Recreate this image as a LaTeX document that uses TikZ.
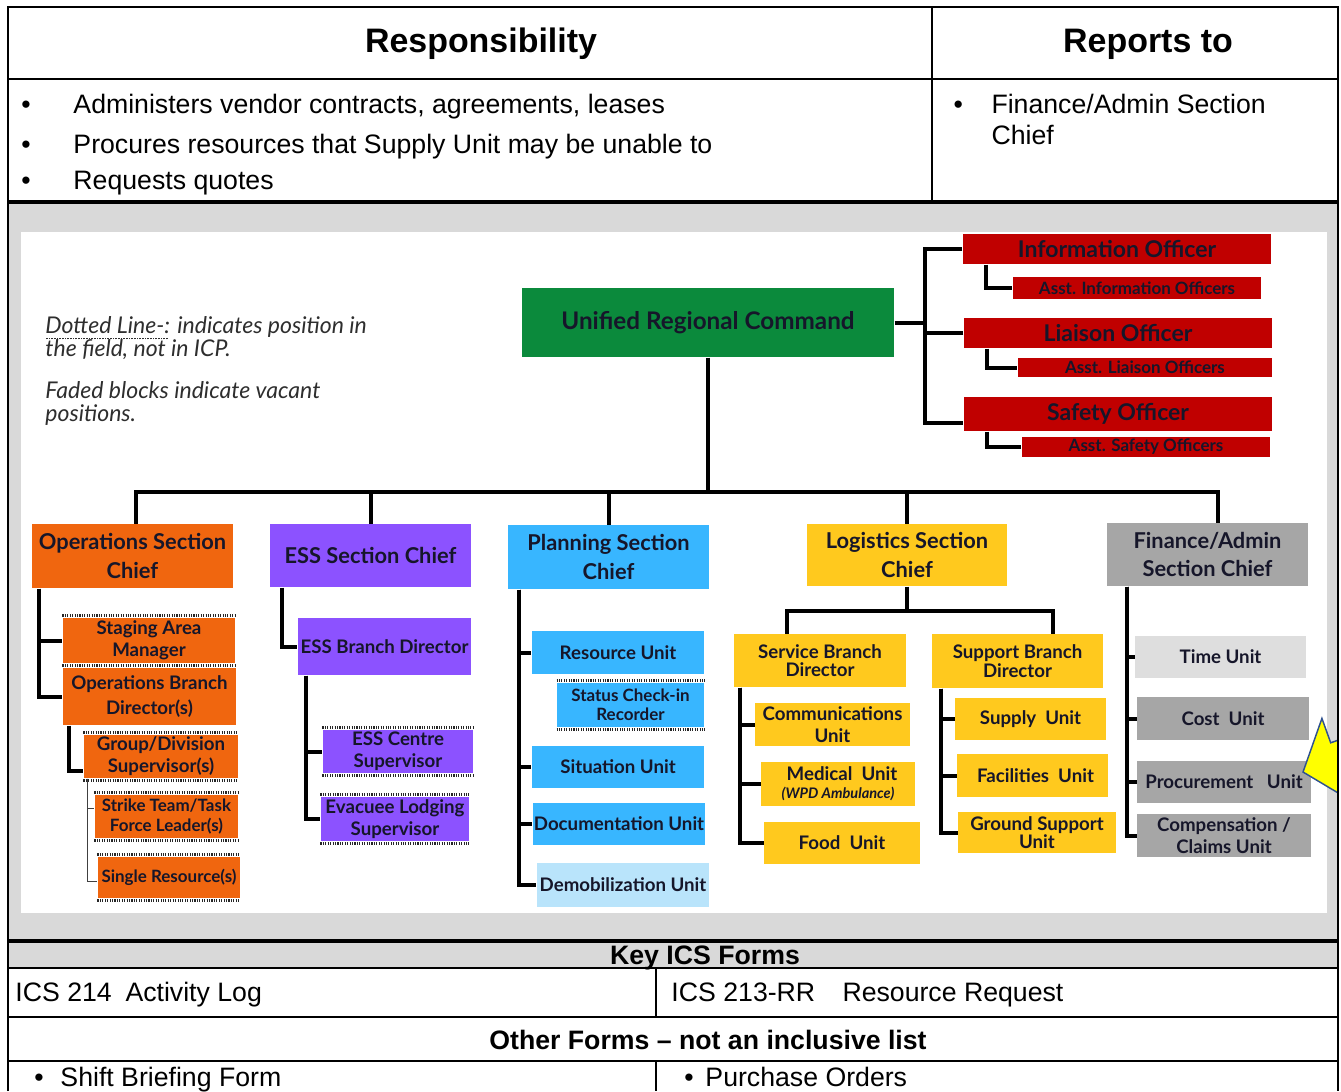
\documentclass[tikz,border=0pt]{standalone}
\usepackage{fontspec}
\setmainfont{Liberation Sans}
\newfontfamily\chartfont{Lato}
\usetikzlibrary{positioning}
\newlength\pxu
\setlength\pxu{0.41256pt}
\definecolor{cmdgreen}{HTML}{0B8A3C}
\definecolor{offred}{HTML}{C00000}
\definecolor{opsorange}{HTML}{F0660F}
\definecolor{essviolet}{HTML}{8C52FF}
\definecolor{plnblue}{HTML}{38B6FF}
\definecolor{plnpale}{HTML}{B9E4FB}
\definecolor{logyellow}{HTML}{FFC91E}
\definecolor{fingray}{HTML}{A6A6A6}
\definecolor{finpale}{HTML}{DEDEDE}
\definecolor{panelgray}{HTML}{D9D9D9}
\definecolor{pointer}{HTML}{FFFF00}
\definecolor{pointeredge}{HTML}{2F528F}
\definecolor{ink}{HTML}{16162A}
\definecolor{notegray}{HTML}{2E2E2E}
\newcommand\dotul[1]{\setbox0\hbox{#1}\rlap{\lower2.4pt\hbox to\wd0{\leaders\hbox to 1.1pt{\hss\vrule width .6pt height .6pt\hss}\hfil}}#1}
\tikzset{
  wh/.style 2 args={minimum width=#1*\pxu, minimum height=#2*\pxu},
  blk/.style={inner sep=0pt, align=center, text=ink, font=\chartfont\bfseries\fontsize{7.7}{9}\selectfont},
  chief/.style={blk, font=\chartfont\bfseries\fontsize{9}{11.6}\selectfont},
  officer/.style={blk, fill=offred, font=\chartfont\bfseries\fontsize{9.5}{11}\selectfont},
  asst/.style={blk, fill=offred, font=\chartfont\bfseries\fontsize{7}{8}\selectfont},
  field/.style={blk, font=\chartfont\bfseries\fontsize{7}{8}\selectfont},
  link/.style={line width=1.65pt, draw=black},
  thinlink/.style={line width=.45pt, draw=black!75},
  fieldline/.style={line width=.9pt, draw=black!85, dash pattern=on .45pt off .55pt},
  note/.style={inner sep=0pt, align=left, text=notegray, font=\chartfont\itshape\fontsize{9.5}{9.4}\selectfont},
  rule/.style={line width=.45pt},
  heavy/.style={line width=1.3pt},
  cell/.style={inner sep=0pt, anchor=base west, font=\fontsize{11}{12.8}\selectfont},
  cellhead/.style={inner sep=0pt, anchor=base, font=\bfseries\fontsize{11}{12.8}\selectfont},
}
\begin{document}
\begin{tikzpicture}[x=0.0145cm, y=-0.0145cm]
\useasboundingbox (0,0) rectangle (1341,1091);
\fill[panelgray] (8,202) rectangle (1338,941);
\fill[white] (21,232) rectangle (1327,913);
\fill[panelgray] (8,941) rectangle (1338,968);

\node[inner sep=0pt, anchor=base, font=\bfseries\fontsize{14}{16}\selectfont] (hresp) at (481,52) {Responsibility};
\node[inner sep=0pt, anchor=base, font=\bfseries\fontsize{14}{16}\selectfont] (hrep) at (1148,52) {Reports to};
\node[cell] (resp1) at (21,113) {\makebox[52\pxu][l]{•}Administers vendor contracts, agreements, leases};
\node[cell] (resp2) at (21,153) {\makebox[52\pxu][l]{•}Procures resources that Supply Unit may be unable to};
\node[cell] (resp3) at (21,189) {\makebox[52\pxu][l]{•}Requests quotes};
\node[cell] (rep1) at (953,113) {\makebox[38\pxu][l]{•}Finance/Admin Section};
\node[cell] (rep2) at (991,144) {Chief};

\node[cellhead] (keyforms) at (705,964) {Key ICS Forms};
\node[cell] (form1) at (15,1001) {\makebox[110\pxu][l]{ICS 214}Activity Log};
\node[cell] (form2) at (671,1001) {\makebox[171\pxu][l]{ICS 213-RR}Resource Request};
\node[cellhead] (otherforms) at (708,1049) {Other Forms -- not an inclusive list};
\node[cell] (other1) at (34,1086) {\makebox[26\pxu][l]{•}Shift Briefing Form};
\node[cell] (other2) at (684,1086) {\makebox[21\pxu][l]{•}Purchase Orders};

\node[note, anchor=north west] (dotnote) at (45,316) {\dotul{Dotted Line-:} indicates position in\\the field, not in ICP.};
\node[note, anchor=north west] (fadenote) at (45,381) {Faded blocks indicate vacant\\positions.};

\node[chief, fill=cmdgreen, wh={372}{69}, font=\chartfont\bfseries\fontsize{10}{12}\selectfont] (urc) at (708,322.5) {Unified Regional Command};
\node[officer, wh={308}{30}] (info) at (1117,249) {Information Officer};
\node[asst, wh={248}{22}] (ainfo) at (1137,288) {Asst. Information Officers};
\node[officer, wh={308}{30}] (lia) at (1118,333) {Liaison Officer};
\node[asst, wh={254}{19}] (alia) at (1145,367.5) {Asst. Liaison Officers};
\node[officer, wh={308}{34}] (saf) at (1118,414) {Safety Officer};
\node[asst, wh={248}{20}] (asaf) at (1146,447) {Asst. Safety Officers};

\node[chief, fill=opsorange, wh={201}{64}] (ops) at (132.5,556) {Operations Section\\Chief};
\node[chief, fill=essviolet, wh={201}{63}] (ess) at (370.5,555.5) {ESS Section Chief};
\node[chief, fill=plnblue, wh={201}{64}] (pln) at (608.5,557) {Planning Section\\Chief};
\node[chief, fill=logyellow, wh={200}{62}] (log) at (907,555) {Logistics Section\\Chief};
\node[chief, fill=fingray, wh={201}{63}] (fin) at (1207.5,554.5) {Finance/Admin\\Section Chief};

\node[blk, fill=opsorange, wh={172}{45}] (stag) at (149,640.5) {Staging Area\\Manager};
\node[blk, fill=opsorange, wh={173}{57}, font=\chartfont\bfseries\fontsize{7.7}{10.3}\selectfont] (obd) at (149.5,696.5) {Operations Branch\\Director(s)};
\node[blk, fill=opsorange, wh={154}{43}] (grp) at (161,756.5) {Group/Division\\Supervisor(s)};
\node[field, fill=opsorange, wh={143}{43}] (stk) at (166.5,816.5) {Strike Team/Task\\Force Leader(s)};
\node[field, fill=opsorange, wh={142}{41}] (sgl) at (169,877.5) {Single Resource(s)};

\node[blk, fill=essviolet, wh={173}{57}] (esbd) at (384.5,646.5) {ESS Branch Director};
\node[blk, fill=essviolet, wh={150}{43}] (ecs) at (398,751.5) {ESS Centre\\Supervisor};
\node[blk, fill=essviolet, wh={148}{44}] (elod) at (395,819) {Evacuee Lodging\\Supervisor};

\node[blk, fill=plnblue, wh={172}{43}] (res) at (618,652.5) {Resource Unit};
\node[field, fill=plnblue, wh={147}{44}] (scr) at (630.5,705) {Status Check-in\\Recorder};
\node[blk, fill=plnblue, wh={172}{42}] (sit) at (618,767) {Situation Unit};
\node[blk, fill=plnblue, wh={172}{42}] (doc) at (619,824) {Documentation Unit};
\node[blk, fill=plnpale, wh={172}{44}] (dmb) at (623,885) {Demobilization Unit};

\node[blk, fill=logyellow, wh={172}{53}, font=\chartfont\bfseries\fontsize{7.7}{7.4}\selectfont] (svc) at (820,660.5) {Service Branch\\Director};
\node[blk, fill=logyellow, wh={171}{54}, font=\chartfont\bfseries\fontsize{7.7}{7.6}\selectfont] (spt) at (1017.5,661) {Support Branch\\Director};
\node[blk, fill=logyellow, wh={155}{43}] (com) at (832.5,724.5) {Communications\\Unit};
\node[blk, fill=logyellow, wh={154}{44}, font=\chartfont\bfseries\fontsize{7.7}{7.4}\selectfont] (med) at (838,784) {\hspace*{8\pxu}Medical\ \ Unit\\{\itshape\fontsize{6}{7}\selectfont (WPD Ambulance)}};
\node[blk, fill=logyellow, wh={156}{42}] (food) at (842,843) {Food\ \ Unit};
\node[blk, fill=logyellow, wh={151}{42}] (sply) at (1030.5,719) {Supply\ \ Unit};
\node[blk, fill=logyellow, wh={151}{43}] (fac) at (1032.5,775.5) {\hspace*{6\pxu}Facilities\ \ Unit};
\node[blk, fill=logyellow, wh={158}{41}, font=\chartfont\bfseries\fontsize{7.7}{7.2}\selectfont] (gsu) at (1037,832.5) {Ground Support\\Unit};

\node[blk, fill=finpale, wh={171}{42}] (time) at (1220.5,657) {Time Unit};
\node[blk, fill=fingray, wh={172}{43}] (cost) at (1223,718.5) {Cost\ \ Unit};
\node[blk, fill=fingray, wh={174}{42}] (proc) at (1224,782) {Procurement\ \ \ Unit};
\node[blk, fill=fingray, wh={174}{43}] (comp) at (1224,835.5) {Compensation /\\Claims Unit};

\coordinate (bus) at (708,492);
\coordinate (brk) at (925,315);
\coordinate (lbus) at (907,611);
\draw[link] (urc.south) -- (bus);
\draw[link] ([xshift=3*\pxu]ops.north) |- (bus) -| ([xshift=10*\pxu]fin.north);
\foreach \s in {ess,pln,log}{ \draw[link] (\s.north) -- (\s.north |- bus); }
\draw[link] (urc.east) -- (urc.east -| brk);
\draw[link] (info.west) -| (brk) |- ([yshift=-9*\pxu]saf.west);
\draw[link] (lia.west) -- (lia.west -| brk);
\foreach \a/\b in {info/ainfo,lia/alia,saf/asaf}{ \draw[link] ([xshift=24*\pxu]\a.south west) |- (\b.west); }

\draw[link] ([xshift=8*\pxu]ops.south west) |- (stag.west);
\draw[link] ([xshift=8*\pxu]ops.south west) |- (obd.west);
\draw[link] ([xshift=7*\pxu]obd.south west) |- ([yshift=-14*\pxu]grp.west);
\draw[thinlink] ([xshift=4*\pxu]grp.south west) |- ([yshift=8*\pxu]stk.west);
\draw[thinlink] ([xshift=4*\pxu]grp.south west) |- ([yshift=-4*\pxu]sgl.west);
\draw[link] ([xshift=13*\pxu]ess.south west) |- (esbd.west);
\foreach \n in {ecs,elod}{ \draw[link] ([xshift=9*\pxu]esbd.south west) |- (\n.west); }
\foreach \n in {res,sit,doc,dmb}{ \draw[link] ([xshift=12*\pxu]pln.south west) |- (\n.west); }
\draw[link] (log.south) -- (log.south |- lbus);
\draw[link] ([xshift=-33*\pxu]svc.north) |- (lbus) -| ([xshift=35*\pxu]spt.north);
\foreach \n in {com,med,food}{ \draw[link] ([xshift=6*\pxu]svc.south west) |- (\n.west); }
\foreach \n in {sply,fac,gsu}{ \draw[link] ([xshift=9*\pxu]spt.south west) |- (\n.west); }
\foreach \n in {time,cost,proc,comp}{ \draw[link] ([xshift=20*\pxu]fin.south west) |- (\n.west); }

\foreach \n in {stag,grp,stk,sgl,scr,ecs,elod}{
  \draw[fieldline] ([yshift=2*\pxu]\n.north west) -- ([yshift=2*\pxu]\n.north east);
  \draw[fieldline] ([yshift=-2*\pxu]\n.south west) -- ([yshift=-2*\pxu]\n.south east);
}

\begin{scope}
  \clip (0,0) rectangle (1338,1091);
  \filldraw[fill=pointer, draw=pointeredge, line width=.6pt] (1303,772) -- (1321.9,718.4) -- (1330.7,742.8) -- (1405.9,715.6) -- (1418.1,749.4) -- (1343,776.7) -- (1351.8,801.1) -- cycle;
\end{scope}

\draw[rule] (8,79) -- (1338,79);
\draw[rule] (932,7) -- (932,202);
\draw[heavy] (8,202) -- (1338,202);
\draw[heavy] (8,941) -- (1338,941);
\draw[rule] (8,968) -- (1338,968);
\draw[rule] (8,1017) -- (1338,1017);
\draw[rule] (8,1061) -- (1338,1061);
\draw[rule] (656,968) -- (656,1017);
\draw[rule] (656,1061) -- (656,1091);
\draw[line width=1pt] (8,1091) -- (8,7) -- (1338,7) -- (1338,1091);
\end{tikzpicture}
\end{document}
